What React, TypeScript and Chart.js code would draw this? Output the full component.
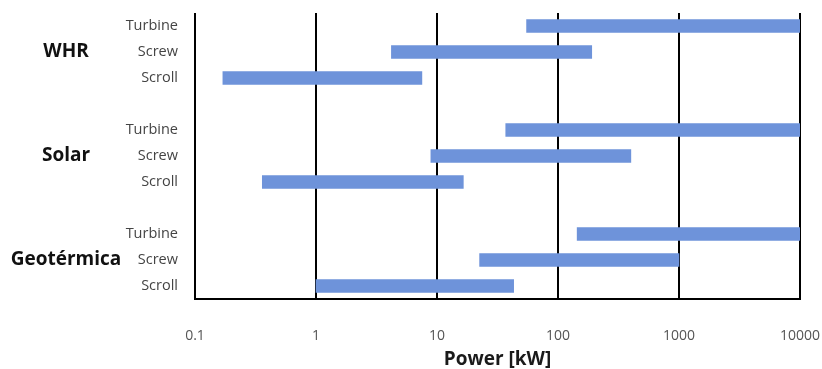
import React, { useEffect, useRef } from "react";
import { Chart, registerables } from "chart.js";

Chart.register(...registerables);

const categories = ["Turbine", "Screw", "Scroll", "", "Turbine", "Screw", "Scroll", "", "Turbine", "Screw", "Scroll"];
const groups = ["WHR", "Solar", "Geotérmica"];
const groupIndex = [1, 5, 9];
const rangeStart = [55, 4.2, 0.17, null, 37, 8.9, 0.36, null, 144, 22.5, 1];
const rangeEnd = [10000, 190, 7.5, null, 10000, 400, 16.5, null, 10000, 1000, 43];
const tickValues = [0.1, 1, 10, 100, 1000, 10000];
const axisTitle = "Power [kW]";

const FONT = "'Open Sans', Lato, sans-serif";

export default function App() {
  const ref = useRef<HTMLCanvasElement>(null);
  useEffect(() => {
    if (!ref.current) return;
    const data = categories.map((_, i) =>
      rangeStart[i] == null ? null : [rangeStart[i], rangeEnd[i]]
    );
    const groupLabels = {
      id: "groupLabels",
      afterDraw(chart: any) {
        const ctx = chart.ctx;
        const y = chart.scales.y;
        ctx.save();
        ctx.font = `bold 19px ${FONT}`;
        ctx.fillStyle = "#111";
        ctx.textAlign = "center";
        ctx.textBaseline = "middle";
        groups.forEach((g, k) => {
          ctx.fillText(g, 66, y.getPixelForValue(groupIndex[k]));
        });
        ctx.restore();
      },
    };
    const chart = new Chart(ref.current, {
      type: "bar",
      data: {
        labels: categories,
        datasets: [
          {
            data: data as any,
            backgroundColor: "#6e93da",
            borderWidth: 0,
            barThickness: 13,
            borderSkipped: false,
          },
        ],
      },
      options: {
        indexAxis: "y",
        animation: false,
        responsive: false,
        maintainAspectRatio: false,
        layout: { padding: { top: 13, right: 22, left: 0, bottom: 0 } },
        plugins: {
          legend: { display: false },
          tooltip: { enabled: false },
        },
        scales: {
          x: {
            type: "logarithmic",
            min: 0.1,
            max: 10000,
            afterBuildTicks: (s: any) => {
              s.ticks = tickValues.map((v) => ({ value: v }));
            },
            afterFit: (s: any) => {
              s.height = 70;
              s.paddingLeft = 0;
              s.paddingRight = 0;
            },
            ticks: {
              autoSkip: false,
              maxRotation: 0,
              padding: 29,
              color: "#555",
              font: { family: FONT, size: 14 },
              callback: (v: any) => String(v),
            },
            grid: {
              color: "#000",
              lineWidth: 2,
              drawTicks: false,
            },
            border: { color: "#000", width: 2 },
            title: {
              display: true,
              text: axisTitle,
              color: "#1a1a1a",
              font: { family: FONT, size: 19, weight: "bold" },
              padding: { top: 0, bottom: -2 },
            },
          },
          y: {
            type: "category",
            afterFit: (s: any) => {
              s.width = 195;
              s.paddingTop = 0;
              s.paddingBottom = 0;
            },
            ticks: {
              padding: 17,
              color: "#444",
              font: { family: FONT, size: 14.5 },
              autoSkip: false,
            },
            grid: { display: false, drawTicks: false },
            border: { display: false },
          },
        },
      },
      plugins: [groupLabels],
    });
    return () => chart.destroy();
  }, []);
  return (
    <div style={{ position: "fixed", left: 0, top: 0, width: 822, height: 369, background: "#fff" }}>
      <canvas ref={ref} width={822} height={369} style={{ width: 822, height: 369 }} />
    </div>
  );
}
